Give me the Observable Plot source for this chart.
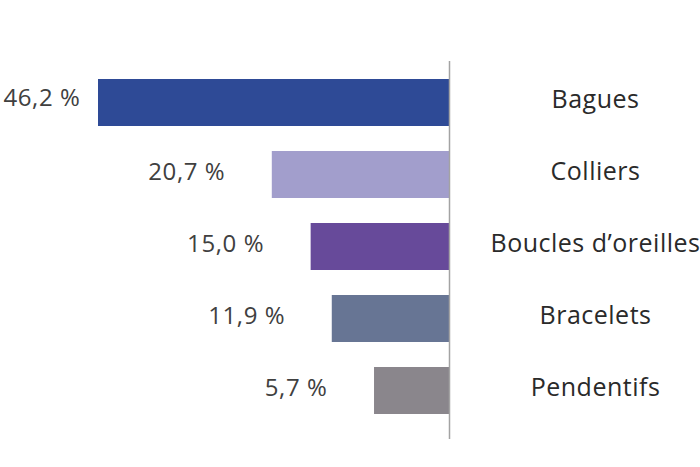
<!DOCTYPE html>
<html>
<head>
<meta charset="utf-8">
<script src="https://cdn.jsdelivr.net/npm/d3@7"></script>
<script src="https://cdn.jsdelivr.net/npm/@observablehq/plot@0.6"></script>
<style>
  html, body { margin: 0; padding: 0; background: #ffffff; }
  #chart svg { display: block; }
  .vlab { letter-spacing: 0.6px; }
  .clab { letter-spacing: 0.5px; }
</style>
</head>
<body>
<div id="chart"></div>
<script>
const categories = ["Bagues", "Colliers", "Boucles d\u2019oreilles", "Bracelets", "Pendentifs"];
const values = [46.2, 20.7, 15.0, 11.9, 5.7];
const valueLabels = ["46,2 %", "20,7 %", "15,0 %", "11,9 %", "5,7 %"];
const colors = ["#2e4a96", "#a29ecc", "#674a9a", "#677594", "#8a868c"];

const base = -5.3;
const data = categories.map((c, i) => ({category: c, value: values[i], label: valueLabels[i], color: colors[i]}));

const chart = Plot.plot({
  width: 700,
  height: 467,
  marginLeft: 98,
  marginRight: 251,
  marginTop: 61,
  marginBottom: 28,
  style: {fontFamily: "'Open Sans', sans-serif", background: "#ffffff"},
  x: {domain: [base, 46.2], reverse: true, axis: null},
  y: {domain: categories, range: [53.65, 440], padding: 0.343, axis: null},
  marks: [
    Plot.barX(data, {y: "category", x1: () => base, x2: "value", fill: "color"}),
    Plot.ruleX([base], {stroke: "#a3a3a3", strokeWidth: 1.5}),
    Plot.text(data.filter(d => d.category === "Bagues"), {
      y: "category", x: "value", text: "label", textAnchor: "end", dx: -18, dy: -5,
      fontSize: 24, fill: "#404040", className: "vlab"
    }),
    Plot.text(data.filter(d => d.category !== "Bagues"), {
      y: "category", x: "value", text: "label", textAnchor: "end", dx: -47, dy: -3,
      fontSize: 24, fill: "#404040", className: "vlab"
    }),
    Plot.text(data, {
      y: "category", x: () => base, text: "category", textAnchor: "middle", dx: 146, dy: -3,
      fontSize: 25, fill: "#2a2a2a", className: "clab"
    })
  ]
});
document.getElementById("chart").appendChild(chart);
</script>
</body>
</html>
